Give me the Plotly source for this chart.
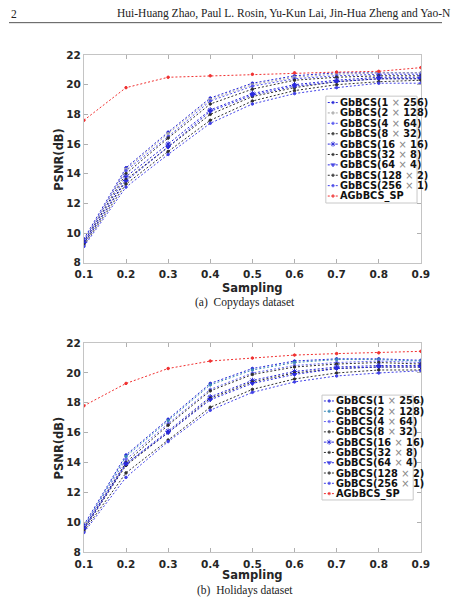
import plotly.graph_objects as go

sampling = [0.1, 0.2, 0.3, 0.4, 0.5, 0.6, 0.7, 0.8, 0.9]

names = ["GbBCS(1 × 256)", "GbBCS(2 × 128)", "GbBCS(4 × 64)", "GbBCS(8 × 32)",
         "GbBCS(16 × 16)", "GbBCS(32 × 8)", "GbBCS(64 × 4)", "GbBCS(128 × 2)",
         "GbBCS(256 × 1)", "AGbBCS_SP"]

# Copydays dataset (a)
copydays = [
    [9.6, 14.4, 16.8, 19.1, 20.1, 20.6, 20.8, 20.8, 20.8],
    [9.5, 14.3, 16.7, 19.0, 20.0, 20.5, 20.7, 20.8, 20.8],
    [9.5, 14.2, 16.5, 18.9, 19.9, 20.4, 20.6, 20.7, 20.7],
    [9.4, 14.0, 16.4, 18.7, 19.7, 20.3, 20.5, 20.6, 20.6],
    [9.4, 13.8, 16.0, 18.3, 19.4, 20.0, 20.3, 20.5, 20.5],
    [9.3, 13.6, 15.8, 18.0, 19.2, 19.8, 20.2, 20.4, 20.4],
    [9.3, 13.5, 15.8, 18.2, 19.3, 19.9, 20.2, 20.4, 20.4],
    [9.2, 13.3, 15.5, 17.6, 18.9, 19.6, 20.0, 20.2, 20.3],
    [9.1, 13.1, 15.3, 17.4, 18.7, 19.4, 19.8, 20.1, 20.1],
    [17.6, 19.8, 20.5, 20.6, 20.7, 20.8, 20.85, 20.9, 21.15],
]

# Holidays dataset (b)
holidays = [
    [9.8, 14.5, 16.9, 19.3, 20.3, 20.8, 20.95, 20.95, 20.85],
    [9.7, 14.4, 16.8, 19.2, 20.2, 20.7, 20.9, 20.9, 20.8],
    [9.7, 14.2, 16.6, 18.9, 20.0, 20.5, 20.7, 20.8, 20.7],
    [9.6, 14.0, 16.5, 18.8, 19.9, 20.4, 20.6, 20.7, 20.6],
    [9.6, 13.9, 16.1, 18.4, 19.5, 20.1, 20.4, 20.5, 20.5],
    [9.5, 13.8, 16.0, 18.3, 19.4, 20.0, 20.3, 20.4, 20.4],
    [9.5, 13.9, 16.0, 18.2, 19.3, 19.9, 20.3, 20.4, 20.4],
    [9.4, 13.3, 15.5, 17.7, 18.9, 19.6, 20.0, 20.2, 20.2],
    [9.3, 13.0, 15.4, 17.5, 18.7, 19.4, 19.8, 20.0, 20.15],
    [17.8, 19.3, 20.3, 20.8, 21.0, 21.2, 21.3, 21.35, 21.45],
]

colors_a = ["#2424d8", "#a8a8a8", "#5050f0", "#303030", "#2424d8", "#303030",
            "#2a2ae0", "#303030", "#4040e8", "#f03030"]
colors_b = ["#2424d8", "#3a8ab8", "#6464f0", "#303030", "#2424d8", "#303030",
            "#2a2ae0", "#303030", "#4040e8", "#f03030"]
symbols = ["circle", "circle", "circle", "circle", "asterisk-open", "circle",
           "triangle-down", "circle", "circle", "circle"]
msizes = [2.5, 2.5, 2.5, 2.5, 4.5, 2.5, 4, 2.5, 2.5, 2.5]

W, H = 451, 603
fig = go.Figure()

def pd_(y):
    return 1 - y / H

panels = [
    dict(data=copydays, colors=colors_a, xa="x", ya="y", top=50, bot=262,
         leg=(330, 425, 92, 201, 98.5, 10.6, 343), cap="(a)  Copydays dataset",
         samp_y=287.5, cap_y=303),
    dict(data=holidays, colors=colors_b, xa="x2", ya="y2", top=344, bot=557,
         leg=(326, 421, 397, 504, 403, 10.5, 339), cap="(b)  Holidays dataset",
         samp_y=580.5, cap_y=596),
]

for p in panels:
    for i, ys in enumerate(p["data"]):
        fig.add_trace(go.Scatter(
            x=sampling, y=ys, xaxis=p["xa"], yaxis=p["ya"], mode="lines+markers",
            line=dict(color=p["colors"][i], width=1, dash="2px,2px"),
            marker=dict(color=p["colors"][i], size=msizes[i], symbol=symbols[i],
                        line=dict(color=p["colors"][i], width=1)),
            showlegend=False, hoverinfo="skip"))

# legend boxes and samples on overlay pixel axis
for p in panels:
    x0, x1, y0, y1, ry, dy, tx = p["leg"]
    fig.add_trace(go.Scatter(
        x=[x0, x1, x1, x0, x0], y=[y0, y0, y1, y1, y0], xaxis="x3", yaxis="y3",
        mode="lines", fill="toself", fillcolor="white",
        line=dict(color="#c8c8c8", width=1), showlegend=False, hoverinfo="skip"))
    for i, nm in enumerate(names):
        yy = ry + i * dy
        c = p["colors"][i]
        fig.add_trace(go.Scatter(
            x=[x0 + 2, x0 + 7.5, x0 + 13], y=[yy, yy, yy], xaxis="x3", yaxis="y3",
            mode="lines+markers", line=dict(color=c, width=1, dash="2px,2px"),
            marker=dict(color=c, size=[0, msizes[i], 0], symbol=symbols[i],
                        line=dict(color=c, width=1)),
            showlegend=False, hoverinfo="skip"))
        label = nm.replace("×", "<span style='color:#888;font-weight:normal'>×</span>")
        fig.add_annotation(x=tx, y=yy, xref="x3", yref="y3", text=label, showarrow=False,
                           xanchor="left", yanchor="middle",
                           font=dict(family="DejaVu Sans", size=9.8, color="#111", weight="bold"))
    fig.add_annotation(x=253.5 / W, y=pd_(p["samp_y"]), xref="paper", yref="paper",
                       text="Sampling", showarrow=False, xanchor="center", yanchor="middle",
                       font=dict(family="DejaVu Sans", size=11.5, color="#262626", weight="bold"))
    fig.add_annotation(x=52 / W, y=pd_((p["top"] + p["bot"]) / 2), xref="paper", yref="paper",
                       text="PSNR(dB)", showarrow=False, textangle=-90,
                       xanchor="center", yanchor="middle",
                       font=dict(family="DejaVu Sans", size=11.5, color="#262626", weight="bold"))
    fig.add_annotation(x=246 / W, y=pd_(p["cap_y"]), xref="paper", yref="paper",
                       text=p["cap"], showarrow=False, xanchor="center", yanchor="middle",
                       font=dict(family="Liberation Serif", size=11.5, color="#222"))

# page header
fig.add_annotation(x=0, y=pd_(8), xref="paper", yref="paper", text="2", showarrow=False,
                   xanchor="left", yanchor="middle",
                   font=dict(family="Liberation Serif", size=11.5, color="#222"))
fig.add_annotation(x=110 / W, y=pd_(8), xref="paper", yref="paper",
                   text="Hui-Huang Zhao, Paul L. Rosin, Yu-Kun Lai, Jin-Hua Zheng and Yao-N",
                   showarrow=False, xanchor="left", yanchor="middle",
                   font=dict(family="Liberation Serif", size=11.5, color="#222"))
fig.add_shape(type="line", xref="paper", yref="paper", x0=0, x1=1, y0=pd_(17), y1=pd_(17),
              line=dict(color="#555", width=1))

tickfont = dict(family="DejaVu Sans", size=10.5, color="#262626", weight="bold")
ax_common = dict(showline=True, linecolor="#c4c4c4", linewidth=1, mirror="ticks",
                 ticks="inside", ticklen=4, tickcolor="#b0b0b0", showgrid=False,
                 zeroline=False, tickfont=tickfont)

x_dom = [78 / W, 429 / W]
fig.update_layout(
    width=W, height=H, margin=dict(l=0, r=0, t=0, b=0),
    paper_bgcolor="white", plot_bgcolor="rgba(0,0,0,0)", showlegend=False,
    xaxis=dict(domain=x_dom, anchor="y", range=[0.1, 0.9], dtick=0.1, tick0=0.1,
               tickformat=".1f", ticklabelstandoff=2, **ax_common),
    yaxis=dict(domain=[pd_(262), pd_(50)], anchor="x", range=[8, 22], dtick=2, **ax_common),
    xaxis2=dict(domain=x_dom, anchor="y2", range=[0.1, 0.9], dtick=0.1, tick0=0.1,
                tickformat=".1f", ticklabelstandoff=2, **ax_common),
    yaxis2=dict(domain=[pd_(557), pd_(344)], anchor="x2", range=[8, 22], dtick=2, **ax_common),
    xaxis3=dict(domain=[0, 1], anchor="y3", range=[0, W], visible=False, fixedrange=True),
    yaxis3=dict(domain=[0, 1], anchor="x3", range=[H, 0], visible=False, fixedrange=True),
)

fig.write_html("out.html")
